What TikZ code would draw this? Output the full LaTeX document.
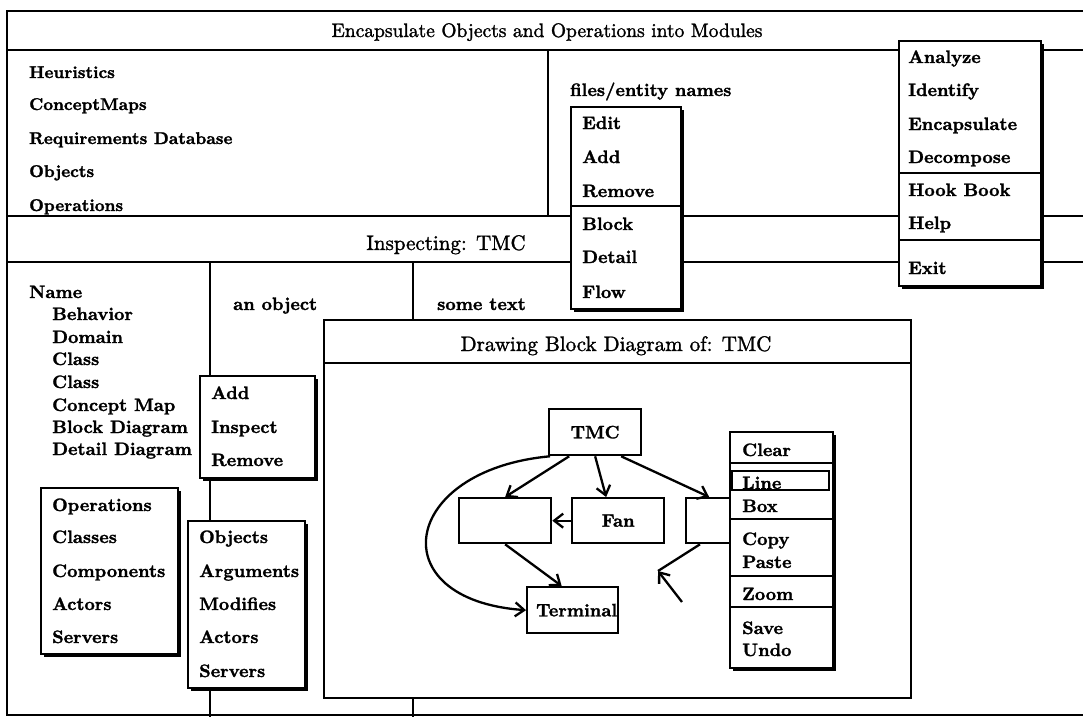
\documentclass[tikz,border=0pt]{standalone}
\usepackage{fontspec}
\usetikzlibrary{arrows.meta,shadows}
% heavy strokes for the screen lettering
\newfontfamily\screenbold{lmroman10-bold.otf}[FakeBold=1.6]
\newfontfamily\screenplain{lmroman10-regular.otf}[FakeBold=1.5]
\begin{document}
\begin{tikzpicture}[x=1pt,y=-1pt,
  rule/.style={line width=2.3pt},
  bigtitle/.style={font=\fontsize{19.5}{24}\screenplain, anchor=base, inner sep=0pt},
  entry/.style={font=\fontsize{18}{20}\screenbold, anchor=base west, inner sep=0pt},
  topentry/.style={entry, font=\fontsize{17}{20}\screenbold},
  popup/.style={draw, line width=2.3pt, fill=white, anchor=north west, inner sep=0pt,
    drop shadow={shadow xshift=2.4pt, shadow yshift=-2.4pt, opacity=1, fill=black}},
  plainbox/.style={draw, line width=2.3pt, fill=white, anchor=north west, inner sep=0pt,
    font=\fontsize{18}{20}\screenbold},
  link/.style={line width=2.3pt, -{Straight Barb[length=9pt, width=14pt, line width=2.3pt]}},
]
\useasboundingbox (0,0) rectangle (1083,717);

% outer frame and panel rules
\draw[rule] (1083,11) -- (7,11) -- (7,715) -- (1083,715);
\draw[rule] (7,50) -- (1083,50);
\draw[rule] (548,50) -- (548,216);
\draw[rule] (7,216) -- (1083,216);
\draw[rule] (7,262) -- (1083,262);
\draw[rule] (210,262) -- (210,717);
\draw[rule] (413,262) -- (413,717);

% title bars
\node[bigtitle] (encap) at (547,37) {Encapsulate Objects and Operations into Modules};
\node[bigtitle, font=\fontsize{21}{24}\screenplain] (insp) at (446,250) {Inspecting: TMC};

% upper left list
\node[topentry] (heur) at (29,78) {Heuristics};
\node[topentry] (cmaps) at (29,110) {ConceptMaps};
\node[topentry] (reqdb) at (29,144) {Requirements Database};
\node[topentry] (objs) at (29,177) {Objects};
\node[topentry] (ops) at (29,211) {Operations};

\node[entry] (files) at (570,96) {files/entity names};

% inspector attribute list
\node[entry] (nm) at (29,298) {Name};
\node[entry] (beh) at (52,320) {Behavior};
\node[entry] (dom) at (52,343) {Domain};
\node[entry] (cls1) at (52,365) {Class};
\node[entry] (cls2) at (52,388) {Class};
\node[entry] (cmap) at (52,411) {Concept Map};
\node[entry] (bdiag) at (52,433) {Block Diagram};
\node[entry] (ddiag) at (52,455) {Detail Diagram};

\node[entry] (anobj) at (233,310) {an object};
\node[entry] (stext) at (437,310) {some text};

% Add / Inspect / Remove popup
\node[popup, minimum width=115pt, minimum height=102pt] (aim) at (199,375) {};
\node[entry] (aimadd) at (211,399) {Add};
\node[entry] (aimins) at (211,433) {Inspect};
\node[entry] (aimrem) at (211,466) {Remove};

% Operations popup
\node[popup, minimum width=137pt, minimum height=166pt] (opsm) at (40,487) {};
\node[entry] (o1) at (52,511) {Operations};
\node[entry] (o2) at (52,543) {Classes};
\node[entry] (o3) at (52,577) {Components};
\node[entry] (o4) at (52,610) {Actors};
\node[entry] (o5) at (52,643) {Servers};

% Objects popup
\node[popup, minimum width=117pt, minimum height=167pt] (objm) at (187,520) {};
\node[entry] (b1) at (199,543) {Objects};
\node[entry] (b2) at (199,577) {Arguments};
\node[entry] (b3) at (199,610) {Modifies};
\node[entry] (b4) at (199,643) {Actors};
\node[entry] (b5) at (199,677) {Servers};

% drawing window
\node[plainbox, minimum width=587pt, minimum height=378pt] (win) at (323,319) {};
\draw[rule] (win.west |- 0,363) -- (win.east |- 0,363);
\node[bigtitle, font=\fontsize{21}{24}\screenplain] (wintitle) at (616,351) {Drawing Block Diagram of: TMC};

% block diagram
\node[plainbox, minimum width=92pt, minimum height=46pt] (tmc) at (548,408) {TMC};
\node[plainbox, minimum width=92pt, minimum height=45pt] (lbox) at (458,497) {};
\node[plainbox, minimum width=92pt, minimum height=45pt] (fan) at (571,497) {Fan};
\node[plainbox, minimum width=50pt, minimum height=45pt] (rbox) at (685,497) {};
\node[plainbox, minimum width=91pt, minimum height=46pt] (term) at (526,586) {\hspace*{8pt}Terminal};

\draw[link] ([xshift=-26pt]tmc.south) -- (lbox.north);
\draw[link] (tmc.south) -- ([xshift=-12pt]fan.north);
\draw[link] ([xshift=26pt]tmc.south) -- ([xshift=-2pt]rbox.north);
\draw[link] (fan.west) -- (lbox.east);
\draw[link] (lbox.south) -- ([xshift=-11pt]term.north);
\draw[link] ([xshift=2pt]tmc.south west) .. controls (400,470) and (380,600) .. (term.west);
\coordinate (tip) at (658,571);
\coordinate (cursor) at (682,602);
\draw[rule] ([xshift=15pt]rbox.south west) -- (tip);
\draw[link] (cursor) -- (tip);

% drawing tool menu
\node[popup, minimum width=103pt, minimum height=236pt] (tools) at (729,431) {};
\node[entry] (clr) at (742,456) {Clear};
\draw[rule] (tools.west |- 0,463) -- (tools.east |- 0,463);
\node[entry] (lin) at (742,489) {Line};
\draw[line width=2.6pt] (732,471) rectangle (829,490);
\node[entry] (bx) at (742,512) {Box};
\draw[rule] (tools.west |- 0,519) -- (tools.east |- 0,519);
\node[entry] (cpy) at (742,545) {Copy};
\node[entry] (pst) at (742,568) {Paste};
\draw[rule] (tools.west |- 0,576) -- (tools.east |- 0,576);
\node[entry] (zm) at (742,600) {Zoom};
\draw[rule] (tools.west |- 0,607) -- (tools.east |- 0,607);
\node[entry] (sav) at (742,634) {Save};
\node[entry] (und) at (742,656) {Undo};

% file menu
\node[popup, minimum width=110pt, minimum height=202pt] (filem) at (570,106) {};
\draw[rule] (filem.west |- 0,206) -- (filem.east |- 0,206);
\node[entry] (fedit) at (582,129) {Edit};
\node[entry] (fadd) at (582,163) {Add};
\node[entry] (frem) at (582,197) {Remove};
\node[entry] (fblk) at (582,230) {Block};
\node[entry] (fdet) at (582,263) {Detail};
\node[entry] (fflo) at (582,298) {Flow};

% main command menu
\node[popup, minimum width=142pt, minimum height=245pt] (mainm) at (898,40) {};
\draw[rule] (mainm.west |- 0,173) -- (mainm.east |- 0,173);
\draw[rule] (mainm.west |- 0,240) -- (mainm.east |- 0,240);
\node[entry] (ana) at (908,63) {Analyze};
\node[entry] (idf) at (908,96) {Identify};
\node[entry] (enc) at (908,130) {Encapsulate};
\node[entry] (dec) at (908,163) {Decompose};
\node[entry] (hook) at (908,196) {Hook Book};
\node[entry] (hlp) at (908,229) {Help};
\node[entry] (ext) at (908,274) {Exit};
\end{tikzpicture}
\end{document}
